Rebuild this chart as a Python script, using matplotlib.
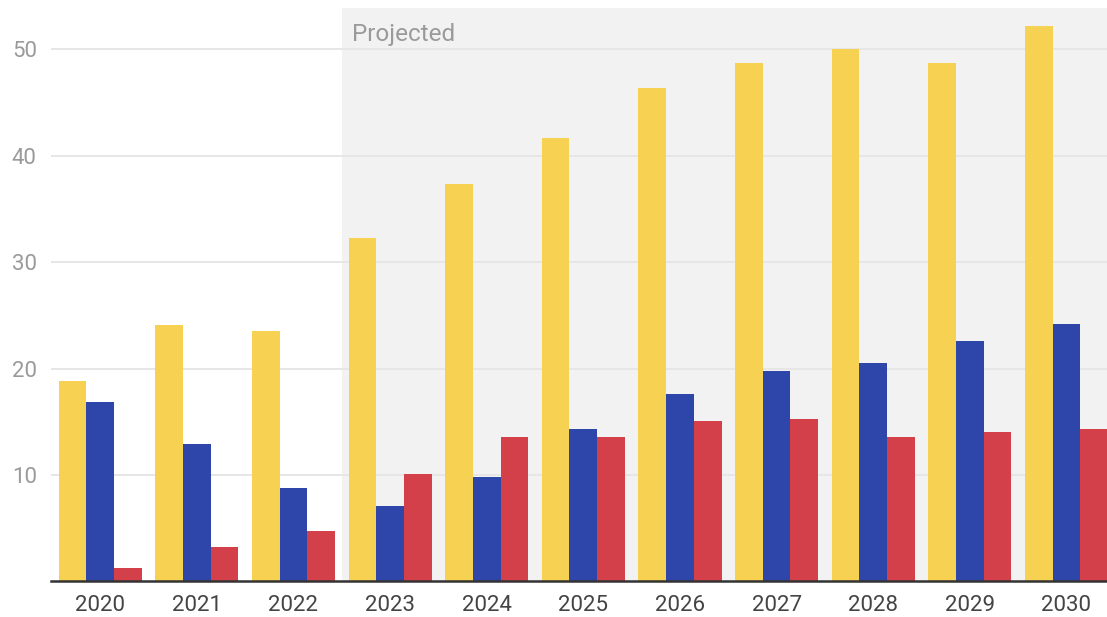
import matplotlib
matplotlib.use("Agg")
import matplotlib.pyplot as plt
import numpy as np

plt.rcParams["font.family"] = ["Roboto", "DejaVu Sans"]

years = ["2020", "2021", "2022", "2023", "2024", "2025",
         "2026", "2027", "2028", "2029", "2030"]
yellow_vals = [18.8, 24.1, 23.5, 32.3, 37.4, 41.7, 46.4, 48.7, 50.0, 48.7, 52.2]
blue_vals = [16.9, 12.9, 8.8, 7.1, 9.8, 14.3, 17.6, 19.8, 20.5, 22.6, 24.2]
red_vals = [1.3, 3.2, 4.7, 10.1, 13.6, 13.6, 15.1, 15.3, 13.6, 14.0, 14.3]
first_projected = "2023"

colors = ["#F7D152", "#2E46A9", "#D3404A"]

fig = plt.figure(figsize=(11.07, 6.17), dpi=100)
ax = fig.add_axes([50.7 / 1107, 1 - 581.4 / 617, (1107 - 50.7) / 1107, (581.4 - 8) / 617])

x = np.arange(len(years))
w = 0.287
for i, (vals, c) in enumerate(zip([yellow_vals, blue_vals, red_vals], colors)):
    ax.bar(x + (i - 1) * w, vals, width=w, color=c, zorder=3, linewidth=0)

# projected region shading
start = years.index(first_projected) - 0.5
ax.axvspan(start, 20, color="#F2F2F2", zorder=0, linewidth=0)
ax.text(start + 0.11, 50.8, "Projected", color="#9A9A9A", fontsize=17.5,
        va="baseline", ha="left", zorder=4)

ax.set_xlim(-0.513, 10.42)
ax.set_ylim(0, 53.9)
ax.set_yticks([10, 20, 30, 40, 50])
ax.set_xticks(x)
ax.set_xticklabels(years)
ax.yaxis.grid(True, color="#E6E6E6", linewidth=1.4, zorder=1)
ax.set_axisbelow(True)

for s in ["top", "right", "left"]:
    ax.spines[s].set_visible(False)
ax.spines["bottom"].set_color("#333333")
ax.spines["bottom"].set_linewidth(1.8)
ax.spines["bottom"].set_zorder(5)

ax.tick_params(axis="x", length=0, pad=10, labelsize=16, labelcolor="#444444")
ax.tick_params(axis="y", length=0, pad=10, labelsize=16, labelcolor="#9A9A9A")

fig.savefig("out.png", dpi=100)
